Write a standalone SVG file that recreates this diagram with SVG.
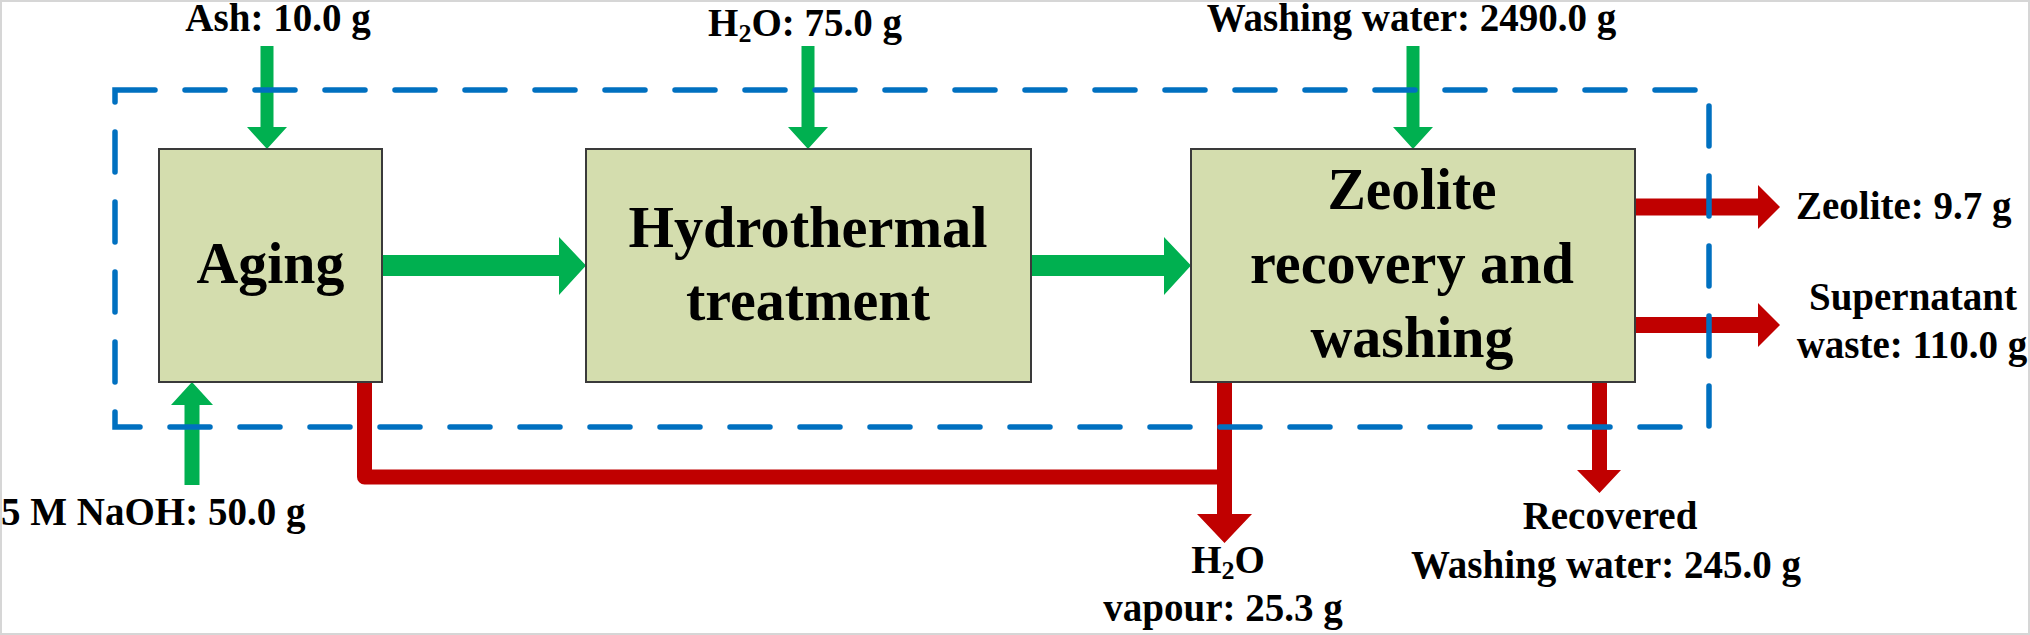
<svg xmlns="http://www.w3.org/2000/svg" width="2030" height="635" viewBox="0 0 2030 635">
<style>
  .box { fill: #D4DDAE; stroke: #3A3A3A; stroke-width: 2; }
  .boxtext { font-family: "Liberation Serif", "Times New Roman", serif; font-weight: bold; font-size: 60px; fill: #000; text-anchor: middle; }
  .lbl { font-family: "Liberation Serif", "Times New Roman", serif; font-weight: bold; font-size: 39px; fill: #000; }
  .mid { text-anchor: middle; }
  .green { fill: #00B050; }
  .red { fill: #C00000; }
  .redline { fill: none; stroke: #C00000; stroke-width: 15; stroke-linejoin: round; }
  .boundary { fill: none; stroke: #0070C0; stroke-width: 5.5; stroke-dasharray: 40 30; stroke-linecap: round; }
</style>
<rect x="0" y="0" width="2030" height="635" fill="#FFFFFF"/>
<rect x="1" y="1" width="2028" height="633" fill="none" stroke="#D6D6D6" stroke-width="2"/>

<g id="connectors">
  <polygon class="green" points="260.5,46 273.5,46 273.5,127 287,127 267,149 247,127 260.5,127"/>
  <polygon class="green" points="801.5,46 814.5,46 814.5,127 828,127 808,149 788,127 801.5,127"/>
  <polygon class="green" points="1406.5,46 1419.5,46 1419.5,127 1433,127 1413,149 1393,127 1406.5,127"/>
  <polygon class="green" points="184.5,485 199.5,485 199.5,405 213,405 192,382 171,405 184.5,405"/>
  <polygon class="green" points="382,255 559,255 559,237 586,265.5 559,295 559,276 382,276"/>
  <polygon class="green" points="1031,255 1164,255 1164,237 1191,265.5 1164,295 1164,276 1031,276"/>
  <polygon class="red" points="1635,198.5 1758,198.5 1758,185 1780,207 1758,229 1758,215.5 1635,215.5"/>
  <polygon class="red" points="1635,317 1758,317 1758,303 1780,325 1758,347 1758,333 1635,333"/>
  <polyline class="redline" points="364.5,382 364.5,477 1224.5,477"/>
  <polygon class="red" points="1217,382 1232,382 1232,514 1252,514 1224.5,543 1197,514 1217,514"/>
  <polygon class="red" points="1592,382 1607,382 1607,470 1621,470 1599.5,493 1577,470 1592,470"/>
</g>

<g id="node-aging">
  <rect class="box" x="159" y="149" width="223" height="233"/>
  <text class="boxtext" x="270.5" y="283" textLength="148" lengthAdjust="spacingAndGlyphs">Aging</text>
</g>

<g id="node-hydrothermal">
  <rect class="box" x="586" y="149" width="445" height="233"/>
  <text class="boxtext" x="808" y="247" textLength="359" lengthAdjust="spacingAndGlyphs">Hydrothermal</text>
  <text class="boxtext" x="808" y="320" textLength="244" lengthAdjust="spacingAndGlyphs">treatment</text>
</g>

<g id="node-zeolite">
  <rect class="box" x="1191" y="149" width="444" height="233"/>
  <text class="boxtext" x="1412" y="209" textLength="169" lengthAdjust="spacingAndGlyphs">Zeolite</text>
  <text class="boxtext" x="1412" y="283" textLength="324" lengthAdjust="spacingAndGlyphs">recovery and</text>
  <text class="boxtext" x="1412" y="357" textLength="203" lengthAdjust="spacingAndGlyphs">washing</text>
</g>

<g id="boundary">
  <rect class="boundary" x="115" y="90" width="1594" height="337"/>
</g>

<g id="labels">
  <text class="lbl mid" x="278" y="31">Ash: 10.0 g</text>
  <text class="lbl mid" x="805" y="36">H<tspan font-size="26" dy="6">2</tspan><tspan dy="-6">O: 75.0 g</tspan></text>
  <text class="lbl mid" x="1411.5" y="31">Washing water: 2490.0 g</text>
  <text class="lbl" x="1" y="525">5 M NaOH: 50.0 g</text>
  <text class="lbl mid" x="1228" y="573">H<tspan font-size="26" dy="6">2</tspan><tspan dy="-6">O</tspan></text>
  <text class="lbl mid" x="1223" y="621">vapour: 25.3 g</text>
  <text class="lbl" x="1796" y="219">Zeolite: 9.7 g</text>
  <text class="lbl mid" x="1913" y="310">Supernatant</text>
  <text class="lbl mid" x="1912" y="358">waste: 110.0 g</text>
  <text class="lbl mid" x="1610" y="529">Recovered</text>
  <text class="lbl mid" x="1606" y="578">Washing water: 245.0 g</text>
</g>
</svg>
